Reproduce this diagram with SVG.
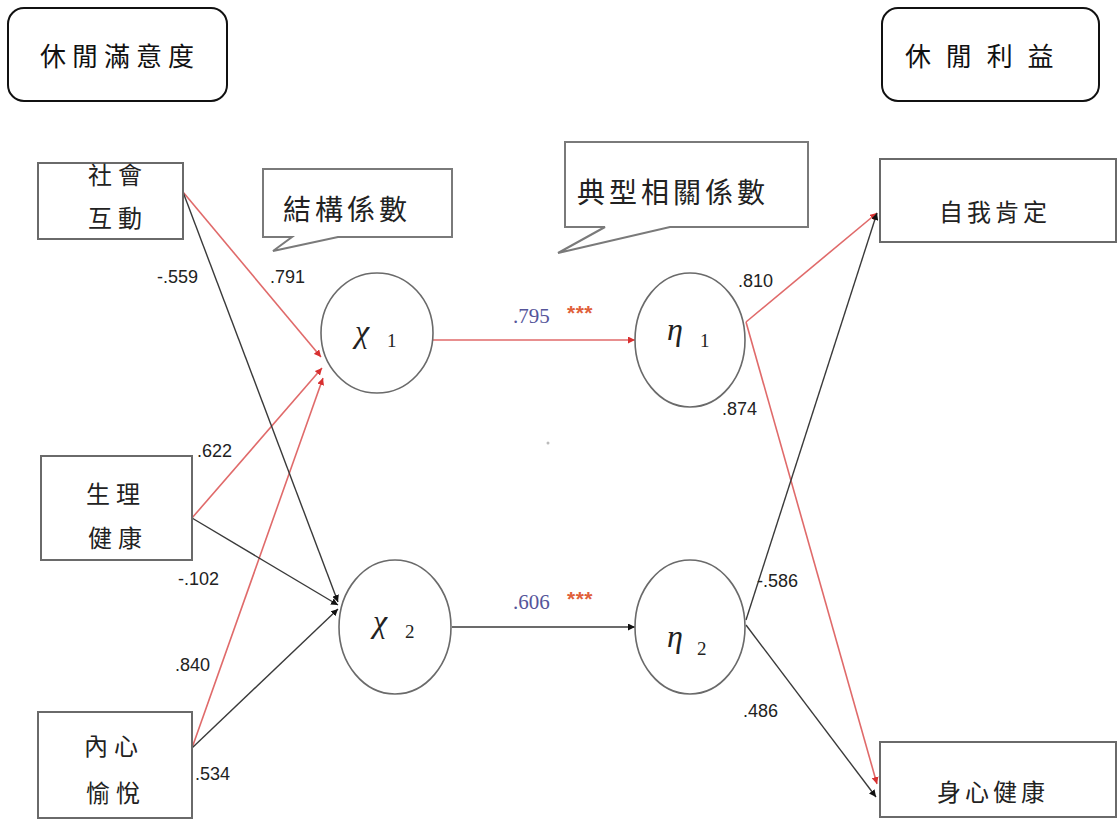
<svg xmlns="http://www.w3.org/2000/svg" width="1117" height="820" viewBox="0 0 1117 820">
<style>
.bg{fill:#ffffff}
.hdr{fill:#ffffff;stroke:#111;stroke-width:2}
.box{fill:#ffffff;stroke:#6a6a6a;stroke-width:2}
.call{fill:#ffffff;stroke:#7a7a7a;stroke-width:2;stroke-linejoin:miter}
.lat{fill:#ffffff;stroke:#6a6a6a;stroke-width:1.6}
.cjk{font-family:"Noto Sans CJK TC","Noto Sans CJK SC",sans-serif;fill:#222}
.hcjk{font-family:"Noto Sans CJK TC","Noto Sans CJK SC",serif;fill:#111;font-size:26px}
.num{font-family:"Liberation Sans",Arial,sans-serif;font-size:18px;fill:#222}
.greek{font-family:"Liberation Serif","Times New Roman",serif;font-style:italic;font-size:32px;fill:#222}
.sub{font-family:"Liberation Serif","Times New Roman",serif;font-size:19px;fill:#222}
.coef{font-family:"Liberation Serif","Times New Roman",serif;font-size:21px;fill:#55559a}
.star{font-family:"Liberation Sans",Arial,sans-serif;font-size:21px;font-weight:bold;fill:#e0603a;letter-spacing:0.5px}
.red{stroke:#e06a6a;stroke-width:1.6;fill:none}
.blk{stroke:#3a3a3a;stroke-width:1.4;fill:none}
</style>
<defs>
<marker id="ar" markerUnits="userSpaceOnUse" markerWidth="8" markerHeight="7" refX="7" refY="3.5" orient="auto">
<path d="M0,0 L7,3.5 L0,7 Z" fill="#d83030"/>
</marker>
<marker id="ab" markerUnits="userSpaceOnUse" markerWidth="8" markerHeight="7" refX="7" refY="3.5" orient="auto">
<path d="M0,0 L7,3.5 L0,7 Z" fill="#111"/>
</marker>
</defs>
<rect class="bg" x="0" y="0" width="1117" height="820"/>

<g id="header-left">
<rect class="hdr" x="8" y="8" width="219" height="93" rx="16"/>
<text class="hcjk" x="40" y="66" letter-spacing="6">休閒滿意度</text>
</g>
<g id="header-right">
<rect class="hdr" x="882" y="8" width="217" height="93" rx="16"/>
<text class="hcjk" x="905" y="66" letter-spacing="4.5">休 閒 利 益</text>
</g>

<g id="connectors">
<line class="red" x1="183" y1="192" x2="321" y2="357" marker-end="url(#ar)"/>
<line class="red" x1="192" y1="518" x2="322" y2="368" marker-end="url(#ar)"/>
<line class="red" x1="192" y1="748" x2="323" y2="378" marker-end="url(#ar)"/>
<line class="blk" x1="183" y1="192" x2="338" y2="602" marker-end="url(#ab)"/>
<line class="blk" x1="192" y1="518" x2="338" y2="605" marker-end="url(#ab)"/>
<line class="blk" x1="192" y1="748" x2="338" y2="609" marker-end="url(#ab)"/>
<line class="red" x1="433" y1="340" x2="635" y2="340" marker-end="url(#ar)"/>
<line class="blk" x1="452" y1="627" x2="635" y2="627" marker-end="url(#ab)"/>
<line class="red" x1="746" y1="322" x2="877" y2="213" marker-end="url(#ar)"/>
<line class="red" x1="746" y1="322" x2="877" y2="784" marker-end="url(#ar)"/>
<line class="blk" x1="746" y1="620" x2="877" y2="213" marker-end="url(#ab)"/>
<line class="blk" x1="746" y1="625" x2="876" y2="797" marker-end="url(#ab)"/>
</g>

<g id="callout-structure">
<path class="call" d="M263,169 H452 V237 H338 L273,251 L292,237 H263 Z"/>
<text class="cjk" x="283" y="220" font-size="28" letter-spacing="4">結構係數</text>
</g>
<g id="callout-canonical">
<path class="call" d="M565,142 H808 V227 H670 L558,253 L605,227 H565 Z"/>
<text class="cjk" x="577" y="203" font-size="28" letter-spacing="4">典型相關係數</text>
</g>

<g id="x-social">
<rect class="box" x="38" y="163" width="145" height="76"/>
<text class="cjk" x="88" y="184" font-size="24" letter-spacing="6">社會</text>
<text class="cjk" x="88" y="227" font-size="24" letter-spacing="6">互動</text>
</g>
<g id="x-physical">
<rect class="box" x="41" y="456" width="151" height="104"/>
<text class="cjk" x="86" y="503" font-size="24" letter-spacing="6">生理</text>
<text class="cjk" x="88" y="547" font-size="24" letter-spacing="6">健康</text>
</g>
<g id="x-inner">
<rect class="box" x="38" y="712" width="154" height="106"/>
<text class="cjk" x="84" y="755" font-size="24" letter-spacing="6">內心</text>
<text class="cjk" x="86" y="802" font-size="24" letter-spacing="6">愉悅</text>
</g>

<g id="chi1">
<ellipse class="lat" cx="377" cy="333" rx="56" ry="60"/>
<text class="greek" x="355" y="342">χ</text>
<text class="sub" x="387" y="347">1</text>
</g>
<g id="chi2">
<ellipse class="lat" cx="395" cy="627" rx="56" ry="67"/>
<text class="greek" x="373" y="632">χ</text>
<text class="sub" x="405" y="638">2</text>
</g>
<g id="eta1">
<ellipse class="lat" cx="690" cy="340" rx="55" ry="67"/>
<text class="greek" x="667" y="340">η</text>
<text class="sub" x="700" y="347">1</text>
</g>
<g id="eta2">
<ellipse class="lat" cx="690" cy="627" rx="55" ry="67"/>
<text class="greek" x="667" y="647">η</text>
<text class="sub" x="697" y="655">2</text>
</g>

<g id="y-self">
<rect class="box" x="880" y="159" width="236" height="83"/>
<text class="cjk" x="939" y="221" font-size="24" letter-spacing="4">自我肯定</text>
</g>
<g id="y-health">
<rect class="box" x="880" y="742" width="236" height="75"/>
<text class="cjk" x="937" y="801" font-size="24" letter-spacing="4">身心健康</text>
</g>

<g id="labels">
<text class="num" x="157" y="283">-.559</text>
<text class="num" x="270" y="283">.791</text>
<text class="num" x="197" y="457">.622</text>
<text class="num" x="178" y="585">-.102</text>
<text class="num" x="175" y="671">.840</text>
<text class="num" x="195" y="780">.534</text>
<text class="num" x="738" y="287">.810</text>
<text class="num" x="722" y="415">.874</text>
<text class="num" x="757" y="587">-.586</text>
<text class="num" x="743" y="717">.486</text>
<text class="coef" x="513" y="323">.795</text>
<text class="star" x="567" y="320">***</text>
<text class="coef" x="513" y="609">.606</text>
<text class="star" x="567" y="606">***</text>
</g>
<circle cx="548" cy="443" r="1.5" fill="#bbbbbb"/>
</svg>
